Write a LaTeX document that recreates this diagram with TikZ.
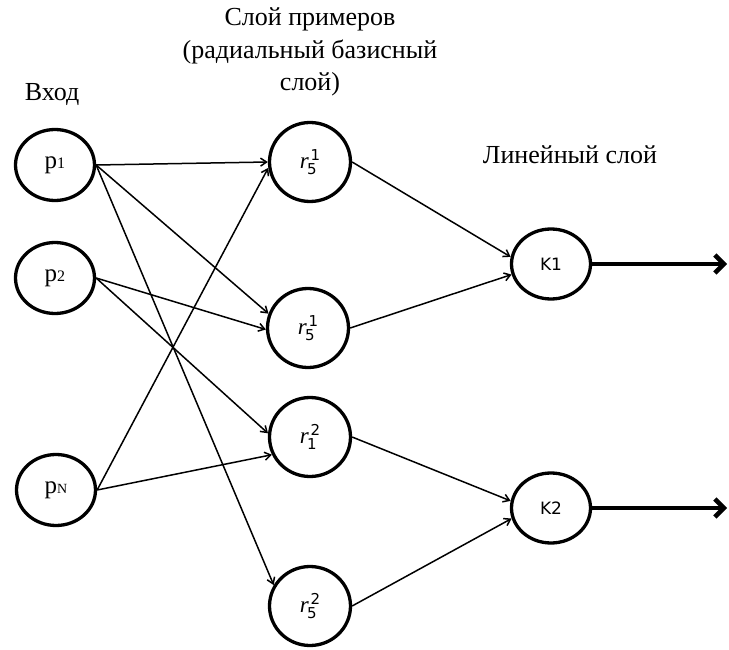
\documentclass[tikz,border=0pt]{standalone}
\usepackage{fontspec}
\setmainfont{Liberation Serif}
\setsansfont{DejaVu Sans}
\usetikzlibrary{shapes.geometric,arrows.meta}
\newcommand\plab[1]{{\fontsize{25}{25}\selectfont p}{\fontsize{16}{16}\selectfont #1}\hspace{12pt}}
\newcommand\rlab[2]{{\fontsize{23}{23}\selectfont\itshape r}\kern-1.5pt\rlap{\raisebox{-6pt}{\sffamily\fontsize{15}{15}\selectfont #1}}\kern3.5pt\raisebox{8pt}{\sffamily\fontsize{15}{15}\selectfont #2}}
\begin{document}
\begin{tikzpicture}[x=1pt,y=-1pt,
  neuron/.style={draw,ellipse,line width=3.3pt,inner sep=0pt},
  inp/.style={neuron,minimum width=79pt,minimum height=71pt},
  rbf/.style={neuron,minimum width=81pt,minimum height=79pt},
  lin/.style={neuron,minimum width=79pt,minimum height=70pt,font=\sffamily\fontsize{17}{17}\selectfont},
  edge/.style={line width=1.5pt,-{Straight Barb[length=6pt,width=8pt]}},
  outarrow/.style={line width=4.5pt,-{Straight Barb[length=9pt,width=18pt]}},
  title/.style={font=\fontsize{26}{32.5}\selectfont,align=center,inner sep=0pt}]
\useasboundingbox (0,0) rectangle (729,650);
% titles
\node[title] (tmid) at (310,52) {Слой примеров\\(радиальный базисный\\слой)};
\node[title] (tin) at (52,95) {Вход};
\node[title] (tlin) at (570,155) {Линейный слой};
% input layer
\node[inp] (p1) at (55,165) {\plab{1}};
\node[inp] (p2) at (55,278) {\plab{2}};
\node[inp] (pN) at (56,490) {\plab{\fontsize{14}{14}\selectfont N}};
% radial basis layer
\node[rbf] (r1) at (310,162) {\rlab{5}{1}};
\node[rbf] (r2) at (308,328) {\rlab{5}{1}};
\node[rbf] (r3) at (310,437) {\rlab{1}{2}};
\node[rbf] (r4) at (310,606) {\rlab{5}{2}};
% linear layer
\node[lin] (k1) at (551,264) {K1};
\node[lin] (k2) at (551,508) {K2};
\coordinate (o1) at (727,264);
\coordinate (o2) at (727,508);
% connections
\draw[edge] (p1.east) -- (r1.180);
\draw[edge] (p1.east) -- (r2.160);
\draw[edge] (p1.east) -- (r4.150);
\draw[edge] (p2.east) -- (r2.182);
\draw[edge] (p2.east) -- (r3.175);
\draw[edge] (pN.east) -- (r1.188);
\draw[edge] (pN.east) -- (r3.205);
\draw[edge] (r1.east) -- (k1.170);
\draw[edge] (r2.east) -- (k1.195);
\draw[edge] (r3.east) -- (k2.170);
\draw[edge] (r4.east) -- (k2.195);
\draw[outarrow] (k1.east) -- (o1);
\draw[outarrow] (k2.east) -- (o2);
\end{tikzpicture}
\end{document}
